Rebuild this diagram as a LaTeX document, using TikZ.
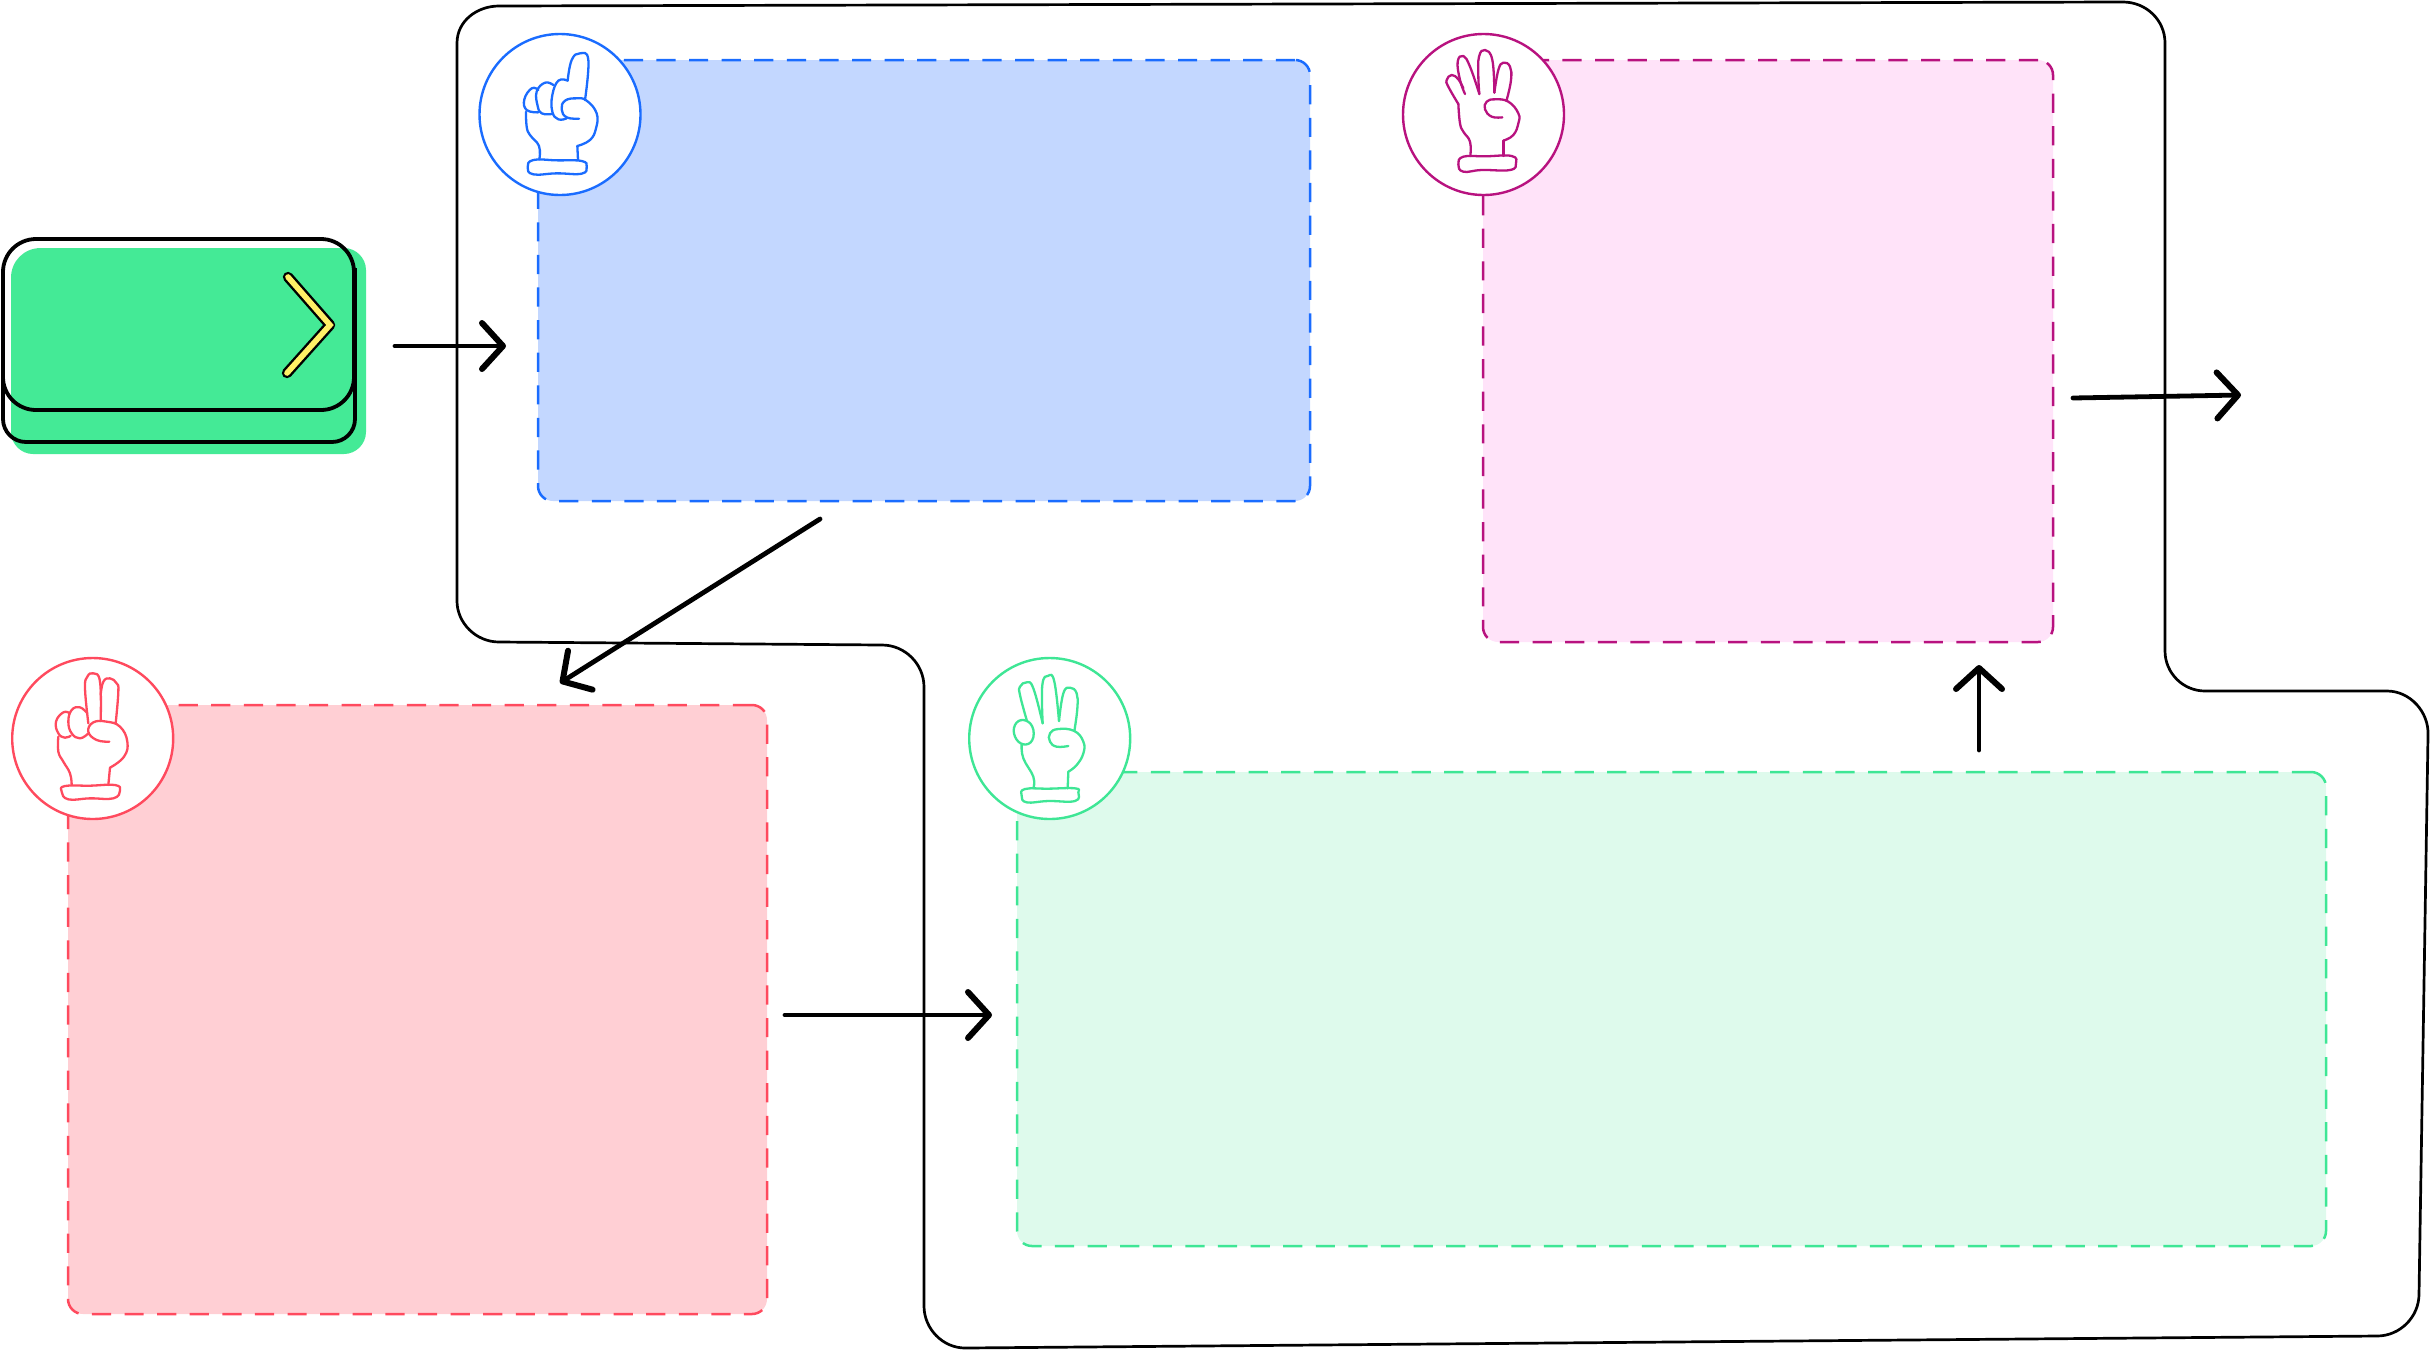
\documentclass[tikz,border=0pt]{standalone}
\usetikzlibrary{arrows.meta}
\definecolor{cblue}{HTML}{1A6CFF}\definecolor{fblue}{HTML}{C3D7FF}
\definecolor{cpink}{HTML}{B8127F}\definecolor{fpink}{HTML}{FFE3F9}
\definecolor{cred}{HTML}{FF4A5E}\definecolor{fred}{HTML}{FFCFD4}
\definecolor{cgreen}{HTML}{3EE695}\definecolor{fgreen}{HTML}{DEFAEC}
\definecolor{cardgreen}{HTML}{44EA96}
\definecolor{cyel}{HTML}{FFF066}
\tikzset{
  panel/.style={draw,rectangle,rounded corners=7.5pt,line width=1.25pt,dash pattern=on 9.6pt off 6.7pt,inner sep=0pt,outer sep=0pt},
  badge/.style={draw,circle,fill=white,line width=1.2pt,minimum size=80.5pt,inner sep=0pt,outer sep=0pt},
  flow/.style={line width=2.4pt,line cap=round,line join=round,-{Straight Barb[length=10.5pt,width=23pt,line width=3pt,round]}},
  contour/.style={line width=1.35pt,black,line join=round},
  handline/.style={line width=1.15pt,line cap=round,line join=round},
  handscope/.style={x=0.16667pt,y=-0.16667pt}
}
\newcommand{\sm}[1]{plot[smooth,tension=0.75] coordinates {#1}}
\newcommand{\smc}[1]{plot[smooth cycle,tension=0.75] coordinates {#1}}
\begin{document}
\begin{tikzpicture}[x=0.5pt,y=-0.5pt]
\useasboundingbox (0,0) rectangle (2430,1350);
% outer contour
\draw[contour] (457,43) .. controls (457,21) and (477,6) .. (499,6) -- (2123,2)
  .. controls (2146,2) and (2165,20) .. (2165,43) -- (2165,651)
  .. controls (2165,673) and (2183,691) .. (2205,691) -- (2387,691)
  .. controls (2410,691) and (2429,712) .. (2428,735) -- (2419,1294)
  .. controls (2419,1317) and (2400,1336) .. (2377,1336) -- (965,1348)
  .. controls (943,1348) and (924,1329) .. (924,1306) -- (924,687)
  .. controls (924,664) and (905,645) .. (882,645) -- (499,642)
  .. controls (476,642) and (457,623) .. (457,601) -- cycle;
% panels
\node[panel,draw=cblue,fill=fblue,minimum width=386pt,minimum height=220.5pt] (pblue) at (924,280.5) {};
\node[panel,draw=cpink,fill=fpink,minimum width=285pt,minimum height=291pt] (ppink) at (1768,351) {};
\node[panel,draw=cred,fill=fred,minimum width=349.5pt,minimum height=304.5pt] (pred) at (417.5,1009.5) {};
\node[panel,draw=cgreen,fill=fgreen,minimum width=654.5pt,minimum height=237pt] (pgreen) at (1671.5,1009) {};
% badges
\node[badge,draw=cblue] (bblue) at (560,114.5) {};
\node[badge,draw=cpink] (bpink) at (1483.5,114.5) {};
\node[badge,draw=cred] (bred) at (92.7,738.5) {};
\node[badge,draw=cgreen] (bgreen) at (1049.7,738.5) {};
% blue hand
\begin{scope}[shift={(470,20)},handscope,draw=cblue]
\draw[handline] \sm{(293,182)(305,120)(330,100)(355,120)(345,240)};
\draw[handline] \sm{(205,210)(185,205)(163,238)(170,270)(205,277)};
\draw[handline] \sm{(250,195)(225,188)(200,215)(203,258)(215,280)(245,282)};
\draw[handline] \sm{(293,182)(265,182)(247,225)(247,275)(265,298)(290,295)};
\draw[handline] \sm{(327,296)(290,292)(275,268)(285,242)(320,235)(350,242)(380,280)(378,325)(360,360)(322,378)};
\draw[handline] (322,378) -- (324,420);
\draw[handline] \sm{(168,275)(170,320)(180,345)(207,378)(208,418)};
\draw[handline] \smc{(260,421)(335,423)(350,440)(335,461)(260,460)(190,463)(173,442)(190,420)};
\end{scope}
% pink hand
\begin{scope}[shift={(1395,20)},handscope,draw=cpink]
\draw[handline] \sm{(335,240)(348,180)(345,140)(325,128)(310,150)(298,218)};
\draw[handline] \sm{(298,218)(292,120)(270,90)(252,110)(250,170)(253,222)};
\draw[handline] \sm{(253,222)(225,140)(205,108)(188,125)(195,180)(210,222)};
\draw[handline] \sm{(190,252)(160,200)(155,180)(170,165)(190,178)(205,205)};
\draw[handline] \sm{(190,252)(195,310)(205,335)(225,365)(226,408)};
\draw[handline] \sm{(322,292)(290,290)(270,268)(275,245)(300,238)(340,245)(370,280)(370,310)(355,345)(325,362)};
\draw[handline] (325,362) -- (325,408);
\draw[handline] \smc{(270,409)(350,408)(363,430)(345,450)(260,450)(205,455)(190,433)(205,410)};
\end{scope}
% red hand
\begin{scope}[shift={(0,645)},handscope,draw=cred]
\draw[handline] \sm{(265,235)(255,130)(262,95)(280,85)(300,110)(302,228)};
\draw[handline] \sm{(302,150)(310,110)(330,100)(350,115)(355,140)(347,235)};
\draw[handline] \sm{(210,205)(190,202)(168,230)(175,265)(195,278)(212,272)};
\draw[handline] \sm{(262,205)(240,187)(215,195)(205,230)(215,265)(240,280)(265,265)};
\draw[handline] \sm{(328,290)(290,285)(265,260)(280,232)(320,230)(360,245)(382,290)(372,335)(330,368)};
\draw[handline] (330,368) -- (325,420);
\draw[handline] \sm{(175,275)(175,320)(190,350)(210,385)(215,420)};
\draw[handline] \smc{(270,422)(345,420)(360,437)(340,460)(270,460)(205,463)(185,440)(195,423)};
\end{scope}
% green hand
\begin{scope}[shift={(955,645)},handscope,draw=cgreen]
\draw[handline] \smc{(205,225)(180,240)(180,275)(205,298)(232,285)(232,245)};
\draw[handline] \sm{(215,225)(195,150)(195,125)(215,112)(235,130)(263,235)};
\draw[handline] \sm{(263,235)(262,120)(280,92)(298,110)(312,228)};
\draw[handline] \sm{(312,228)(325,145)(345,128)(365,145)(367,190)(358,258)};
\draw[handline] \sm{(340,303)(305,305)(285,290)(285,265)(310,252)(358,258)(385,290)(385,325)(365,360)(340,380)};
\draw[handline] (340,380) -- (338,430);
\draw[handline] \sm{(200,298)(205,340)(235,395)(235,430)};
\draw[handline] \smc{(280,431)(360,430)(370,442)(360,468)(280,468)(215,472)(200,452)(210,432)};
\end{scope}
% start card
\fill[cardgreen] (11,278) .. controls (11,261) and (24,248) .. (41,248) -- (344,248)
  .. controls (356,248) and (366,258) .. (366,270) -- (366,432)
  .. controls (366,444) and (356,454) .. (344,454) -- (33,454)
  .. controls (21,454) and (11,444) .. (11,432) -- cycle;
\draw[contour,line width=1.9pt,rounded corners=11.5pt] (3,350) -- (3,442) -- (355,442) -- (355,268);
\node[draw,rectangle,rounded corners=16.5pt,line width=1.9pt,minimum width=175.5pt,minimum height=85.5pt,inner sep=0pt,outer sep=0pt] (card) at (178.5,324.5) {};
\coordinate (c1) at (288,277); \coordinate (c2) at (330,325); \coordinate (c3) at (287,373);
\draw[line width=5.2pt,black,line cap=round,line join=round] (c1) -- (c2) -- (c3);
\draw[line width=2.8pt,cyel,line cap=round,miter limit=10] (c1) -- (c2) -- (c3);
% connectors
\coordinate (a1s) at (395,346); \coordinate (a1e) at (506,346);
\coordinate (a2s) at (820,519); \coordinate (a2e) at (560,683);
\coordinate (a3s) at (785,1015); \coordinate (a3e) at (992,1015);
\coordinate (a4s) at (1979,750); \coordinate (a4e) at (1979,665);
\coordinate (a5s) at (2073,398); \coordinate (a5e) at (2241,395);
\draw[flow] (a1s) -- (a1e);
\draw[flow] (a2s) -- (a2e);
\draw[flow] (a3s) -- (a3e);
\draw[flow] (a4s) -- (a4e);
\draw[flow] (a5s) -- (a5e);
\end{tikzpicture}
\end{document}
